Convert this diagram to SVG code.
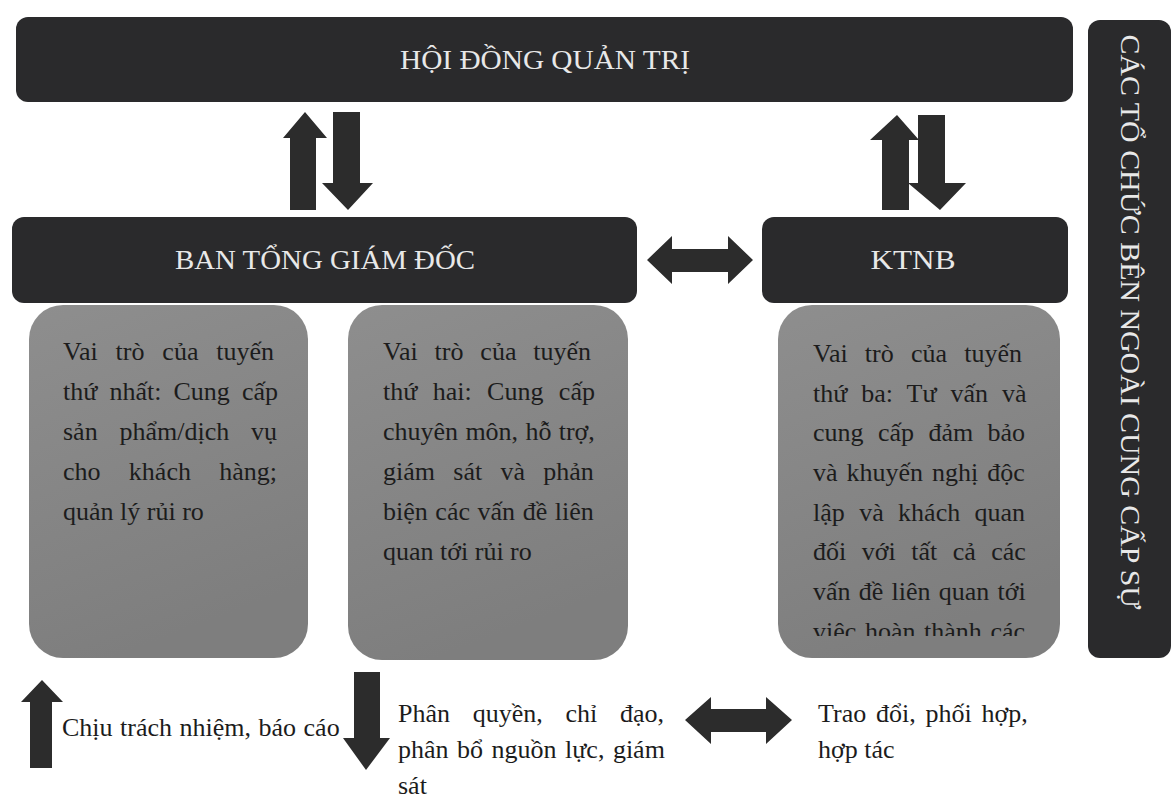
<svg xmlns="http://www.w3.org/2000/svg" width="1173" height="800" viewBox="0 0 1173 800">
<style>
.dark{fill:#2a2a2c}
.role{fill:url(#g)}
.arr{fill:#2c2c2c}
.hd{font-family:"Liberation Serif","Times New Roman",serif;font-size:28px;fill:#e8e8e8}
.bt{font-family:"Liberation Serif","Times New Roman",serif;font-size:26px;fill:#1c1c1c}
</style>
<defs>
<linearGradient id="g" x1="0" y1="0" x2="0.3" y2="1">
<stop offset="0" stop-color="#8e8e8e"/>
<stop offset="1" stop-color="#7e7e7e"/>
</linearGradient>
<clipPath id="c3"><rect x="778" y="305" width="282" height="331"/></clipPath>
</defs>
<rect width="1173" height="800" fill="#ffffff"/>
<g id="hdqt">
<rect class="dark" x="16" y="17" width="1057" height="85" rx="12"/>
<text class="hd" x="545" y="69" text-anchor="middle" textLength="290" lengthAdjust="spacingAndGlyphs">HỘI ĐỒNG QUẢN TRỊ</text>
</g>
<g id="ben-ngoai">
<rect class="dark" x="1088" y="20" width="83" height="638" rx="12"/>
<text class="hd" transform="translate(1121,322) rotate(90)" text-anchor="middle" textLength="575" lengthAdjust="spacingAndGlyphs">CÁC TỔ CHỨC BÊN NGOÀI CUNG CẤP SỰ</text>
</g>
<g id="btgd">
<rect class="dark" x="12" y="217" width="625" height="86" rx="12"/>
<text class="hd" x="325" y="269" text-anchor="middle" textLength="300" lengthAdjust="spacingAndGlyphs">BAN TỔNG GIÁM ĐỐC</text>
</g>
<g id="ktnb">
<rect class="dark" x="762" y="217" width="306" height="86" rx="12"/>
<text class="hd" x="913" y="269" text-anchor="middle" textLength="85" lengthAdjust="spacingAndGlyphs">KTNB</text>
</g>
<g id="tuyen1">
<rect class="role" x="29" y="305" width="279" height="353" rx="34"/>
<text class="bt">
<tspan x="63" y="360" word-spacing="11.4">Vai trò của tuyến</tspan>
<tspan x="63" y="400" word-spacing="5.6">thứ nhất: Cung cấp</tspan>
<tspan x="63" y="440" word-spacing="15.3">sản phẩm/dịch vụ</tspan>
<tspan x="63" y="480" word-spacing="21.8">cho khách hàng;</tspan>
<tspan x="63" y="520">quản lý rủi ro</tspan>
</text>
</g>
<g id="tuyen2">
<rect class="role" x="348" y="305" width="280" height="355" rx="34"/>
<text class="bt">
<tspan x="383" y="360" word-spacing="10.4">Vai trò của tuyến</tspan>
<tspan x="383" y="400" word-spacing="8.9">thứ hai: Cung cấp</tspan>
<tspan x="383" y="440" word-spacing="0.8">chuyên môn, hỗ trợ,</tspan>
<tspan x="383" y="480" word-spacing="11.8">giám sát và phản</tspan>
<tspan x="383" y="520" word-spacing="1.1">biện các vấn đề liên</tspan>
<tspan x="383" y="560">quan tới rủi ro</tspan>
</text>
</g>
<g id="tuyen3">
<rect class="role" x="778" y="305" width="282" height="353" rx="34"/>
<text class="bt" clip-path="url(#c3)">
<tspan x="813" y="362" word-spacing="10.7">Vai trò của tuyến</tspan>
<tspan x="813" y="402" word-spacing="7.5">thứ ba: Tư vấn và</tspan>
<tspan x="813" y="441" word-spacing="7.9">cung cấp đảm bảo</tspan>
<tspan x="813" y="481" word-spacing="2.5">và khuyến nghị độc</tspan>
<tspan x="813" y="521" word-spacing="7.9">lập và khách quan</tspan>
<tspan x="813" y="560" word-spacing="9">đối với tất cả các</tspan>
<tspan x="813" y="600" word-spacing="1.7">vấn đề liên quan tới</tspan>
<tspan x="813" y="640" word-spacing="2.1">việc hoàn thành các</tspan>
</text>
</g>
<g id="connectors">
<polygon class="arr" points="305,112 327,138 316,138 316,210 290,210 290,138 283,138"/>
<polygon class="arr" points="333,112 360,112 360,183 373,183 348,210 322,183 333,183"/>
<polygon class="arr" points="897,115 919,140 909,140 909,210 882,210 882,140 870,140"/>
<polygon class="arr" points="918,115 945,115 945,183 966,183 940,210 908,183 918,183"/>
<polygon class="arr" points="647,260 672,236 672,249 728,249 728,236 753,260 728,284 728,272 672,272 672,284"/>
</g>
<g id="legend">
<polygon class="arr" points="42,680 63,702 52,702 52,768 30,768 30,702 21,702"/>
<text class="bt" x="62" y="736" word-spacing="1">Chịu trách nhiệm, báo cáo</text>
<polygon class="arr" points="354,672 380,672 380,738 390,738 366,770 343,738 354,738"/>
<text class="bt">
<tspan x="398" y="722" word-spacing="16.2">Phân quyền, chỉ đạo,</tspan>
<tspan x="398" y="758" word-spacing="2">phân bổ nguồn lực, giám</tspan>
<tspan x="398" y="794">sát</tspan>
</text>
<polygon class="arr" points="685,720 711,697 711,709 766,709 766,697 792,720 766,744 766,732 711,732 711,744"/>
<text class="bt">
<tspan x="818" y="722" word-spacing="3.3">Trao đổi, phối hợp,</tspan>
<tspan x="818" y="758">hợp tác</tspan>
</text>
</g>
</svg>
